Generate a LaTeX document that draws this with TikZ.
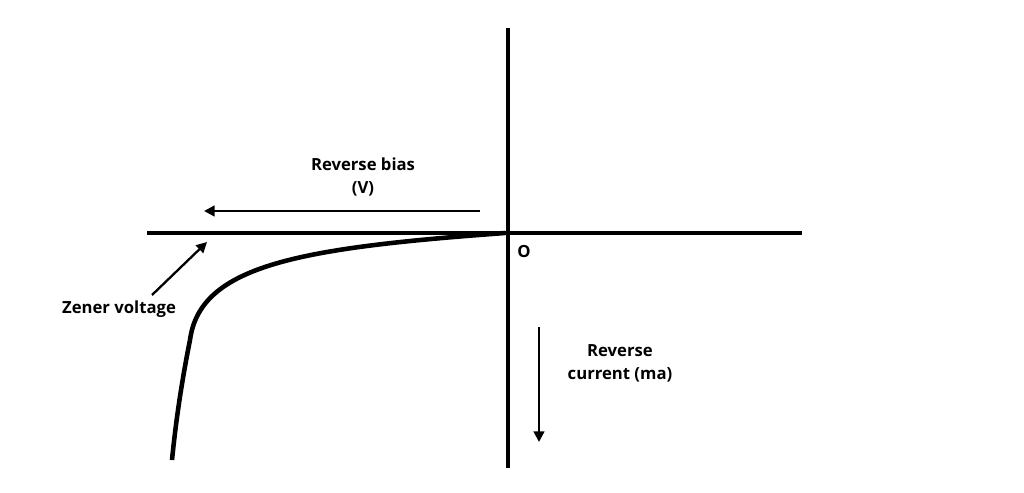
\documentclass[tikz,border=0pt]{standalone}
\usepackage{fontspec}
\setmainfont{Open Sans}
\usetikzlibrary{arrows.meta,positioning}

\begin{document}
\begin{tikzpicture}[x=0.02cm,y=-0.02cm,
    axis/.style={line width=2.3pt},
    pointer/.style={line width=1.3pt,-{Triangle[length=6pt,width=6pt]}},
    lbl/.style={font=\bfseries\fontsize{9.5}{13}\selectfont,align=center}]
    \useasboundingbox (0,0) rectangle (1024,493);

    \coordinate (top) at (508,28);
    \coordinate (bottom) at (508,468);
    \coordinate (left) at (147,233);
    \coordinate (right) at (802,233);
    \draw[axis] (top) -- (bottom);
    \draw[axis] (left) -- (right);

    \coordinate (origin) at (505,233);
    \coordinate (curveend) at (172,460);
    \draw[line width=2.6pt] (origin) .. controls (300,248) and (200,265) .. (190,340)
        .. controls (180,390) and (175,430) .. (curveend);
    \fill (origin) -- (450,235) -- (450,238) -- cycle;

    \node[lbl] (olabel) at (524,252) {O};

    \coordinate (biasstart) at (480,211);
    \coordinate (biasend) at (204,211);
    \draw[pointer] (biasstart) -- (biasend);
    \node[lbl] (biaslabel) at (363,177) {Reverse bias\\(V)};

    \coordinate (curstart) at (539,327);
    \coordinate (curend) at (539,442);
    \draw[pointer] (curstart) -- (curend);
    \node[lbl] (curlabel) at (620,363) {Reverse\\current (ma)};

    \node[lbl] (zenerlabel) at (119,309) {Zener voltage};
    \coordinate (zenertip) at (207,242);
    \draw[pointer] (152,295) -- (zenertip);
\end{tikzpicture}
\end{document}
